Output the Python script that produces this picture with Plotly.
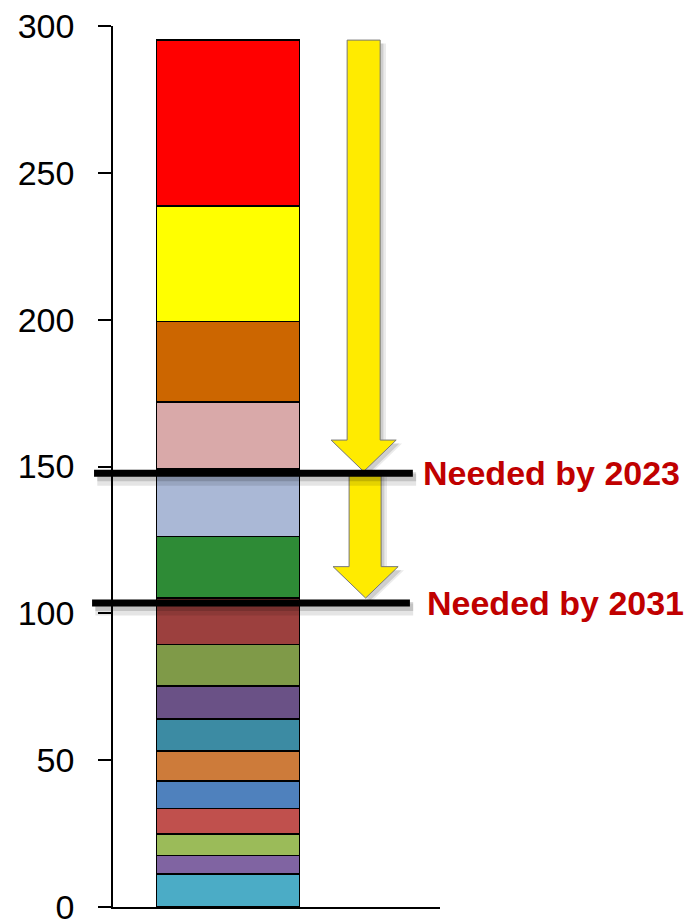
import plotly.graph_objects as go

# Segment values, bottom to top
segment_values = [11.2, 6.3, 7.4, 8.6, 9.4, 10.3, 10.9, 11.1, 14.2, 15.8, 20.9, 23.0, 22.8, 27.4, 39.4, 56.5]
segment_colors = ["#4BACC6", "#8064A2", "#9BBB59", "#C0504D", "#4F81BD", "#CD7B3A", "#3C8BA3", "#6A5186",
                  "#7F9A48", "#9C403E", "#2E8B36", "#AAB8D6", "#D9A9A9", "#CC6600", "#FFFF00", "#FF0000"]
bar_x = [0.352]

# Target levels
target_values = [147.7, 103.5]
target_labels = ["Needed by 2023", "Needed by 2031"]

# Arrows: (start, head start, tip)
arrow_segments = [(295.2, 159.0, 148.3), (147.7, 115.9, 105.2)]

y_ticks = [0, 50, 100, 150, 200, 250, 300]

FONT = "Liberation Sans, Arial, sans-serif"

fig = go.Figure()
for v, c in zip(segment_values, segment_colors):
    fig.add_trace(go.Bar(x=bar_x, y=[v], width=0.437, marker=dict(color=c, line=dict(color="black", width=1.5)),
                         showlegend=False, hoverinfo="skip"))

shapes = []
def arrow_path(top, hs, tip, sx0, sx1, hx0, hx1, dx=0.0, dy=0.0):
    mid = (hx0 + hx1) / 2
    pts = [(sx0, top), (sx1, top), (sx1, hs), (hx1, hs), (mid, tip), (hx0, hs), (sx0, hs)]
    return "M " + " L ".join(f"{x+dx},{y+dy}" for x, y in pts) + " Z"

arrow_geo = [(0.716, 0.817, 0.667, 0.866), (0.722, 0.820, 0.673, 0.872)]
for (top, hs, tip), (sx0, sx1, hx0, hx1) in zip(arrow_segments, arrow_geo):
    for k, op in [(0.010, 0.12), (0.018, 0.08)]:
        shapes.append(dict(type="path", xref="paper", yref="y",
                           path=arrow_path(top, hs, tip, sx0, sx1, hx0, hx1, dx=k, dy=-1.2),
                           fillcolor=f"rgba(0,0,0,{op})", line=dict(width=0), layer="above"))
    shapes.append(dict(type="path", xref="paper", yref="y",
                       path=arrow_path(top, hs, tip, sx0, sx1, hx0, hx1),
                       fillcolor="#FFEB00", line=dict(color="#777777", width=1), layer="above"))

line_ext = [(-0.058, 0.917), (-0.064, 0.908)]
for val, (x0, x1) in zip(target_values, line_ext):
    for off, op, w in [(-2.2, 0.10, 12), (-1.2, 0.15, 9)]:
        shapes.append(dict(type="line", xref="paper", yref="y", x0=x0 + 0.01, x1=x1 + 0.01, y0=val + off, y1=val + off,
                           line=dict(color=f"rgba(0,0,0,{op})", width=w), layer="above"))
    shapes.append(dict(type="line", xref="paper", yref="y", x0=x0, x1=x1, y0=val, y1=val,
                       line=dict(color="black", width=7), layer="above"))

annotations = []
for val, lab, xp in zip(target_values, target_labels, [0.948, 0.960]):
    annotations.append(dict(text=f"<b>{lab}</b>", xref="paper", yref="y", x=xp, y=val, xanchor="left",
                            yanchor="middle", showarrow=False, xshift=-2,
                            font=dict(family=FONT, size=34, color="#C00000")))

# The page body adds an 8px offset, so the figure is 8px smaller and margins are shifted.
fig.update_layout(
    barmode="stack",
    width=688, height=914,
    margin=dict(l=105, r=256, t=18, b=15, autoexpand=False),
    paper_bgcolor="white", plot_bgcolor="white",
    shapes=shapes, annotations=annotations,
    xaxis=dict(range=[0, 1], showgrid=False, zeroline=False, showticklabels=False, ticks="",
               showline=True, linecolor="black", linewidth=2, fixedrange=True, automargin=False),
    yaxis=dict(range=[0, 300], tickvals=y_ticks, showgrid=False, zeroline=False, showline=True,
               linecolor="black", linewidth=1.5, ticks="outside", ticklen=13, tickwidth=1.5, tickcolor="black",
               ticklabelstandoff=17, automargin=False, ticklabeloverflow="allow",
               tickfont=dict(family=FONT, size=34, color="black")),
)
fig.write_html("out.html")
